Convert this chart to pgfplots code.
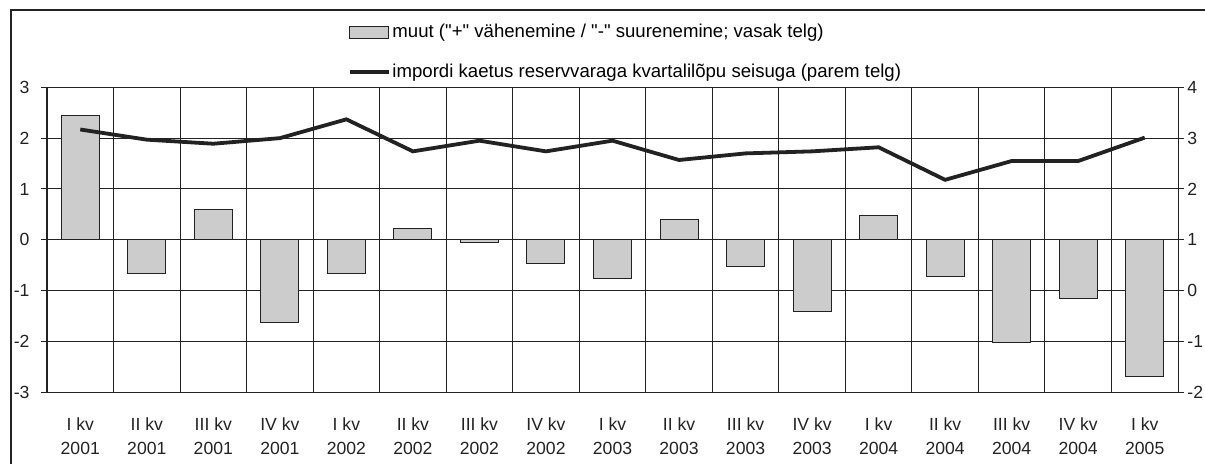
\documentclass[border=0pt]{standalone}
\usepackage{fontspec}
\setmainfont{Liberation Sans}[Ligatures=TeXOff]
\usepackage{pgfplots}
\usepackage{pgfplotstable}
\pgfplotsset{compat=1.18}
\definecolor{barfill}{HTML}{CCCCCC}
\definecolor{dark}{HTML}{222222}
\pgfplotstableread{
x bar line
0  2.45  3.17
1  -0.67 2.97
2  0.59  2.89
3  -1.62 3.00
4  -0.67 3.37
5  0.23  2.74
6  -0.05 2.95
7  -0.47 2.74
8  -0.76 2.95
9  0.39  2.57
10 -0.52 2.70
11 -1.42 2.74
12 0.47  2.82
13 -0.72 2.18
14 -2.02 2.55
15 -1.15 2.55
16 -2.68 3.01
}\datatable
\begin{document}
\begin{tikzpicture}[font=\fontsize{8.8}{10.5}\selectfont]
\useasboundingbox (0,0) rectangle (602.5pt,231.5pt);
\draw[dark, line width=0.6pt] (5.5pt,-20pt) rectangle (640pt,226.5pt);
\pgfplotsset{
  common/.style={
    at={(23.5pt,35.35pt)}, anchor=south west, scale only axis,
    width=565.5pt, height=152.5pt,
    xmin=-0.5, xmax=16.5,
    axis line style={dark, line width=0.5pt},
    tick style={dark, line width=0.5pt},
    tick align=outside, major tick length=3pt,
    /pgf/number format/assume math mode=true,
    ticklabel style={font=\fontsize{8.8}{10.5}\selectfont, text=dark},
  }
}
\begin{axis}[common,
  ymin=-3, ymax=3, ytick={-3,...,3}, ytick pos=left,
  yticklabel style={xshift=-2.2pt},
  xtick={0,...,16},
  xticklabels={{I kv\\2001},{II kv\\2001},{III kv\\2001},{IV kv\\2001},
               {I kv\\2002},{II kv\\2002},{III kv\\2002},{IV kv\\2002},
               {I kv\\2003},{II kv\\2003},{III kv\\2003},{IV kv\\2003},
               {I kv\\2004},{II kv\\2004},{III kv\\2004},{IV kv\\2004},
               {I kv\\2005}},
  xticklabel style={align=center, font=\fontsize{8.8}{12}\selectfont, yshift=-6pt},
  major x tick style={draw=none},
  minor xtick={0.5,1.5,...,15.5}, minor tick length=0pt,
  xminorgrids, ymajorgrids,
  grid style={dark, line width=0.5pt},
  minor grid style={dark, line width=0.5pt},
]
\addplot[ybar, bar width=19pt, fill=barfill, draw=dark, line width=0.5pt] table[x=x, y=bar] {\datatable};
\end{axis}
\begin{axis}[common,
  ymin=-2, ymax=4, ytick={-2,...,4}, ytick pos=right,
  yticklabel style={xshift=-1.8pt},
  xtick=\empty,
  legend style={at={(0.2655,1.214)}, anchor=north west, draw=none, fill=none,
    inner sep=0pt, row sep=9.5pt, font=\fontsize{9.3}{11}\selectfont,
    nodes={inner sep=1pt}},
  legend cell align=left,
]
\addlegendimage{legend image code/.code={\draw[fill=barfill, draw=dark, line width=0.5pt] (0pt,-3pt) rectangle (19.5pt,3pt);}}
\addlegendentry{muut ("+" vähenemine / "-" suurenemine; vasak telg)}
\addplot[dark, line width=1.9pt, legend image code/.code={\draw[dark, line width=1.9pt] (0pt,0pt) -- (19.5pt,0pt);}] table[x=x, y=line] {\datatable};
\addlegendentry{impordi kaetus reservvaraga kvartalilõpu seisuga (parem telg)}
\end{axis}
\end{tikzpicture}
\end{document}
